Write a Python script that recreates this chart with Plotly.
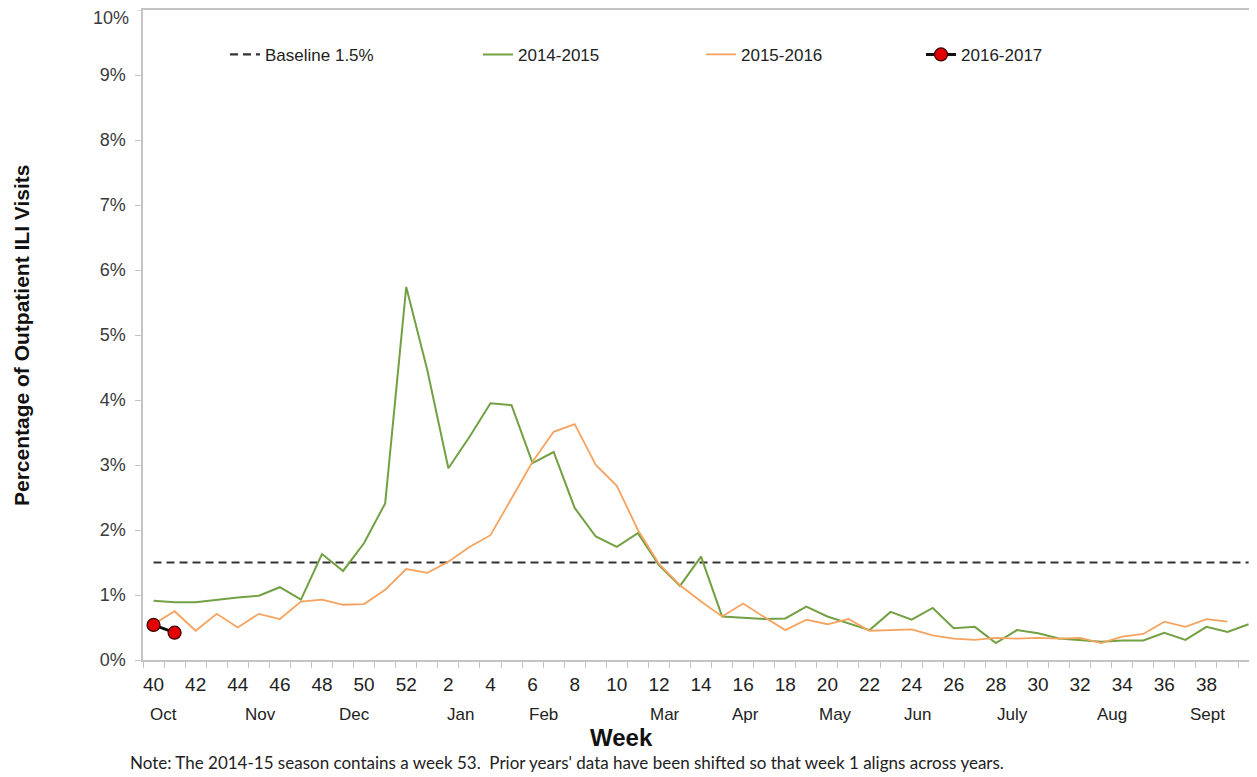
import plotly.graph_objects as go

# ---- data -------------------------------------------------------------
weeks = list(range(40, 53)) + list(range(1, 40))          # 52 week labels on the axis
tick_labels = [str(w) for w in weeks[::2]]                 # 40, 42, ..., 52, 2, ..., 38

baseline = 1.5

season_2014_15 = [0.91, 0.89, 0.89, 0.93, 0.96, 0.99, 1.12, 0.93, 1.63, 1.37,
                  1.80, 2.41, 5.74, 4.46, 2.95, 3.43, 3.95, 3.92, 3.03, 3.20,
                  2.34, 1.90, 1.74, 1.95, 1.46, 1.14, 1.59, 0.67, 0.65, 0.63,
                  0.64, 0.82, 0.67, 0.57, 0.46, 0.74, 0.62, 0.80, 0.49, 0.51,
                  0.26, 0.46, 0.41, 0.33, 0.30, 0.28, 0.30, 0.30, 0.42, 0.31,
                  0.51, 0.43, 0.55]

season_2015_16 = [0.55, 0.75, 0.45, 0.71, 0.50, 0.71, 0.63, 0.90, 0.93, 0.85,
                  0.86, 1.08, 1.40, 1.34, 1.51, 1.74, 1.92, 2.49, 3.05, 3.51,
                  3.63, 3.00, 2.68, 2.00, 1.48, 1.15, 0.90, 0.67, 0.87, 0.66,
                  0.46, 0.62, 0.55, 0.63, 0.45, 0.46, 0.47, 0.38, 0.33, 0.31,
                  0.34, 0.33, 0.34, 0.33, 0.34, 0.26, 0.36, 0.40, 0.59, 0.51,
                  0.63, 0.59]

season_2016_17 = [0.54, 0.42]

months = ["Oct", "Nov", "Dec", "Jan", "Feb", "Mar", "Apr", "May", "Jun", "July", "Aug", "Sept"]
month_pos = [0.45, 5.1, 9.55, 14.6, 18.5, 24.3, 28.1, 32.4, 36.3, 40.8, 45.5, 50.05]

y_ticks = list(range(0, 11))
y_tick_labels = [f"{v}%" for v in y_ticks]

# ---- figure -----------------------------------------------------------
# the page body adds an 8px margin, so the figure is 8px smaller on each axis
FONT = "Liberation Sans, Arial, sans-serif"
fig = go.Figure()

fig.add_trace(go.Scatter(
    x=[0, len(season_2014_15) - 1], y=[baseline, baseline], mode="lines",
    name="Baseline 1.5%", line=dict(color="#333333", width=2.2, dash="8px,5px"),
    hoverinfo="skip", legend="legend"))

fig.add_trace(go.Scatter(
    x=list(range(len(season_2014_15))), y=season_2014_15, mode="lines",
    name="2014-2015", line=dict(color="#72A043", width=2), legend="legend2"))

fig.add_trace(go.Scatter(
    x=list(range(len(season_2015_16))), y=season_2015_16, mode="lines",
    name="2015-2016", line=dict(color="#F6A35F", width=1.8), legend="legend3"))

fig.add_trace(go.Scatter(
    x=list(range(len(season_2016_17))), y=season_2016_17, mode="lines+markers",
    name="2016-2017", line=dict(color="#111111", width=3),
    marker=dict(color="#E30000", size=13, line=dict(color="#3a0000", width=1.2)),
    legend="legend4"))

legend_common = dict(y=0.931, xanchor="left", yanchor="middle",
                     font=dict(size=17, color="#222222", family=FONT),
                     bgcolor="rgba(0,0,0,0)")

fig.update_layout(
    width=1249, height=769,
    margin=dict(l=135, r=0, t=2, b=117),
    paper_bgcolor="white", plot_bgcolor="white",
    font=dict(family=FONT, color="#222222"),
    showlegend=True,
    legend=dict(x=0.0736, **legend_common),
    legend2=dict(x=0.3007, **legend_common),
    legend3=dict(x=0.5009, **legend_common),
    legend4=dict(x=0.6984, **legend_common),
)

fig.update_xaxes(
    range=[-0.5, 52.4], showgrid=False, zeroline=False,
    showline=True, linecolor="#c4c4c4", linewidth=1.5, mirror=True,
    tickmode="array", tickvals=list(range(0, len(weeks), 2)), ticktext=tick_labels,
    ticks="", tickfont=dict(size=19, color="#1e1e1e", family=FONT), ticklabelstandoff=6,
    minor=dict(tickmode="linear", tick0=-0.5, dtick=1, ticks="outside", ticklen=6,
               tickcolor="#c4c4c4", tickwidth=1, showgrid=False),
)

# top label (10%) is drawn as an annotation so it is not clipped at the page edge
fig.update_yaxes(
    range=[0, 10], showgrid=False, zeroline=False,
    showline=True, linecolor="#c4c4c4", linewidth=1.5,
    tickmode="array", tickvals=y_ticks[:-1], ticktext=y_tick_labels[:-1],
    ticks="outside", ticklen=6, tickcolor="#c4c4c4",
    tickfont=dict(size=18, color="#3a3a3a", family=FONT), ticklabelstandoff=6,
)
fig.add_shape(type="line", xref="paper", yref="y", x0=-6 / 1114, x1=0, y0=y_ticks[-1], y1=y_ticks[-1],
              line=dict(color="#c4c4c4", width=1))
fig.add_annotation(x=-12 / 1114, y=y_ticks[-1], xref="paper", yref="y", text=y_tick_labels[-1],
                   showarrow=False, xanchor="right", yanchor="top", yshift=4,
                   font=dict(size=18, color="#3a3a3a", family=FONT))

# month labels under the week numbers
for m, p in zip(months, month_pos):
    fig.add_annotation(x=p, y=0, xref="x", yref="paper", text=m, showarrow=False,
                       yanchor="middle", yshift=-54, font=dict(size=17, color="#222222"))

# axis titles
fig.add_annotation(x=22.2, y=0, xref="x", yref="paper", text="<b>Week</b>", showarrow=False,
                   yanchor="middle", yshift=-77, font=dict(size=24, color="#111111"))
fig.add_annotation(x=-0.1095, y=0.5, xref="paper", yref="paper",
                   text="<b>Percentage of Outpatient ILI Visits</b>", textangle=-90,
                   showarrow=False, xanchor="center", yanchor="middle",
                   font=dict(size=21, color="#111111"))

# footnote
fig.add_annotation(x=-0.0135, y=0, xref="paper", yref="paper", xanchor="left", yanchor="middle",
                   yshift=-102, showarrow=False,
                   text="Note: The 2014-15 season contains a week 53.  Prior years' data have been shifted so that week 1 aligns across years.",
                   font=dict(size=17, color="#222222", family="Lato, Open Sans, sans-serif"))

fig.write_html("out.html")
